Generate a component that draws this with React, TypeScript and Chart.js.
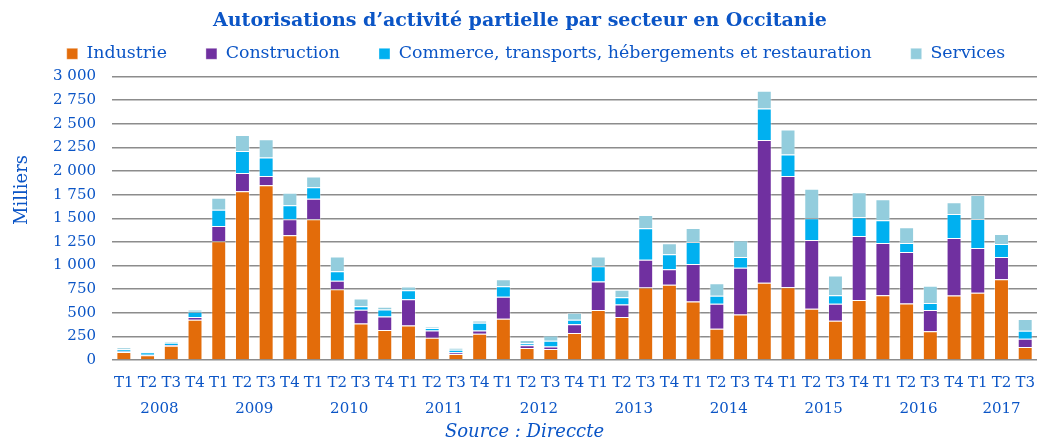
import React, { useEffect, useRef } from 'react';
import { Chart, registerables } from 'chart.js';

Chart.register(...registerables);

const quarters = [
  'T1', 'T2', 'T3', 'T4', 'T1', 'T2', 'T3', 'T4', 'T1', 'T2', 'T3', 'T4',
  'T1', 'T2', 'T3', 'T4', 'T1', 'T2', 'T3', 'T4', 'T1', 'T2', 'T3', 'T4',
  'T1', 'T2', 'T3', 'T4', 'T1', 'T2', 'T3', 'T4', 'T1', 'T2', 'T3', 'T4',
  'T1', 'T2', 'T3',
];
const years = ['2008', '2009', '2010', '2011', '2012', '2013', '2014', '2015', '2016', '2017'];
const quartersPerYear = [4, 4, 4, 4, 4, 4, 4, 4, 4, 3];

const industrie = [
  85, 50, 150, 426, 1257, 1785, 1848, 1320, 1489, 750, 387, 317,
  366, 236, 63, 278, 436, 127, 116, 285, 528, 454, 767, 796,
  620, 331, 482, 817, 771, 542, 415, 634, 686, 598, 303, 683,
  711, 855, 137,
];
const construction = [
  5, 5, 8, 28, 162, 193, 99, 169, 218, 88, 145, 144,
  278, 77, 18, 35, 233, 28, 28, 92, 303, 134, 293, 165,
  397, 264, 493, 1510, 1176, 729, 180, 679, 553, 546, 225, 609,
  475, 236, 88,
];
const commerce = [
  25, 28, 25, 56, 172, 233, 197, 148, 120, 102, 38, 74,
  95, 25, 28, 81, 112, 21, 60, 49, 162, 77, 334, 158,
  233, 84, 116, 334, 228, 229, 91, 197, 239, 95, 74, 253,
  306, 137, 85,
];
const services = [
  20, 5, 12, 25, 127, 169, 193, 134, 116, 155, 81, 28,
  39, 14, 18, 25, 74, 35, 56, 74, 102, 78, 141, 117,
  147, 134, 176, 187, 264, 313, 208, 264, 222, 165, 183, 123,
  254, 106, 123,
];

const seriesNames = [
  'Industrie',
  'Construction',
  'Commerce, transports, hébergements et restauration',
  'Services',
];
const seriesColors = ['#E36C0A', '#7030A0', '#00B0F0', '#93CDDD'];

const titleText = 'Autorisations d\u2019activité partielle par secteur en Occitanie';
const yAxisTitle = 'Milliers';
const sourceText = 'Source : Direccte';

const FONT = "'DejaVu Serif', Georgia, serif";
const BLUE = '#0B55C6';

function formatThousands(v: number): string {
  if (v >= 1000) {
    const th = Math.floor(v / 1000);
    const rest = String(v % 1000).padStart(3, '0');
    return `${th} ${rest}`;
  }
  return String(v);
}

const legendTweakPlugin = {
  id: 'legendTweak',
  beforeLayout(chart: any) {
    const lg = chart.legend;
    if (lg && !lg._patchedFit) {
      const orig = lg.fit;
      lg.fit = function (this: any) {
        orig.call(this);
        this.height += 4;
      };
      lg._patchedFit = true;
    }
  },
  afterLayout(chart: any) {
    const lg = chart.legend;
    if (lg) {
      lg.left += 16;
      lg.right += 16;
    }
  },
};

const extrasPlugin = {
  id: 'extras',
  afterDraw(chart: any) {
    const ctx = chart.ctx;
    const xs = chart.scales.x;
    const area = chart.chartArea;
    ctx.save();
    ctx.fillStyle = BLUE;
    ctx.textAlign = 'center';
    ctx.textBaseline = 'middle';
    ctx.font = `15px ${FONT}`;
    let start = 0;
    years.forEach((y, i) => {
      const n = quartersPerYear[i];
      const a = xs.getPixelForValue(start);
      const b = xs.getPixelForValue(start + n - 1);
      ctx.fillText(y, (a + b) / 2, area.bottom + 49);
      start += n;
    });
    ctx.font = `italic 18px ${FONT}`;
    ctx.fillText(sourceText, chart.width / 2 + 4, area.bottom + 72);
    ctx.translate(22, area.top + (area.bottom - area.top) * 0.4);
    ctx.rotate(-Math.PI / 2);
    ctx.font = `18px ${FONT}`;
    ctx.fillText(yAxisTitle, 0, 0);
    ctx.restore();
  },
};

export default function App() {
  const canvasRef = useRef<HTMLCanvasElement | null>(null);

  useEffect(() => {
    document.body.style.margin = '0';
    document.body.style.overflow = 'hidden';
    const canvas = canvasRef.current;
    if (!canvas) return;
    const data = [industrie, construction, commerce, services];
    const chart = new Chart(canvas, {
      type: 'bar',
      data: {
        labels: quarters,
        datasets: data.map((d, i) => ({
          label: seriesNames[i],
          data: d,
          backgroundColor: seriesColors[i],
          borderColor: 'rgba(255,255,255,0.35)',
          borderWidth: 1,
          categoryPercentage: 1,
          barPercentage: 0.63,
        })),
      },
      options: {
        responsive: false,
        animation: false,
        layout: { padding: { left: 0, right: 1, top: 0, bottom: 0 } },
        plugins: {
          tooltip: { enabled: false },
          title: {
            display: true,
            text: titleText,
            color: BLUE,
            font: { family: FONT, size: 19, weight: 'bold' },
            padding: { top: 9.6, bottom: -26.3 },
          },
          legend: {
            display: true,
            position: 'top',
            labels: {
              color: BLUE,
              font: { family: FONT, size: 17.4 },
              boxWidth: 11,
              boxHeight: 11,
              padding: 39,
            },
          },
        },
        scales: {
          x: {
            stacked: true,
            grid: { display: false },
            border: { display: false },
            ticks: {
              color: BLUE,
              font: { family: FONT, size: 15 },
              autoSkip: false,
              maxRotation: 0,
              minRotation: 0,
              padding: 6,
            },
            afterFit: (scale: any) => {
              scale.height = 81;
            },
          },
          y: {
            stacked: true,
            min: 0,
            max: 3000,
            border: { display: false },
            grid: { color: '#8C8C8C', lineWidth: 1.5, drawTicks: false },
            ticks: {
              stepSize: 250,
              color: BLUE,
              font: { family: FONT, size: 15 },
              padding: 16,
              callback: (v: any) => formatThousands(Number(v)),
            },
            afterFit: (scale: any) => {
              scale.width = 112;
            },
          },
        },
      },
      plugins: [legendTweakPlugin, extrasPlugin],
    });
    return () => chart.destroy();
  }, []);

  return (
    <div style={{ width: 1041, height: 441 }}>
      <canvas ref={canvasRef} width={1041} height={441} />
    </div>
  );
}
